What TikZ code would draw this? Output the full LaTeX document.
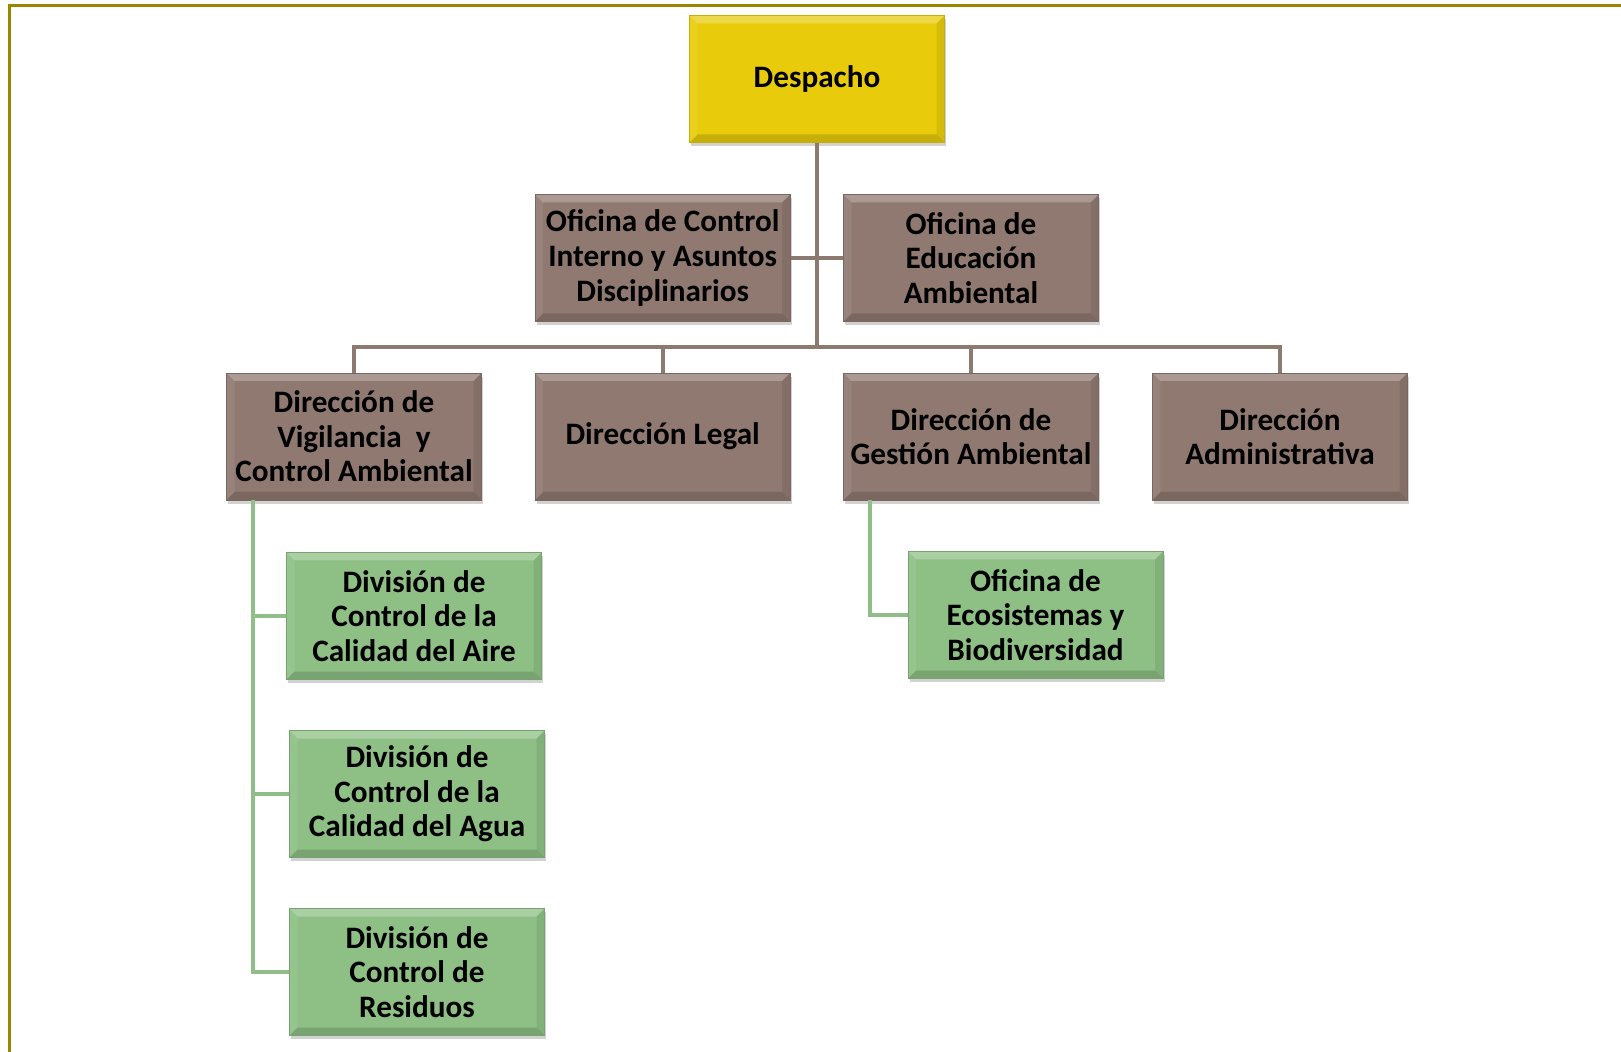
\documentclass[tikz,border=0pt]{standalone}
\usepackage{fontspec}
\setmainfont{Carlito}
\usepackage{tikz}
\usetikzlibrary{shadows,calc}
\usepackage{xcolor}

\definecolor{despfill}{RGB}{232,204,12}
\definecolor{dirfill}{RGB}{143,121,112}
\definecolor{divfill}{RGB}{142,191,133}
\definecolor{linebrown}{RGB}{140,122,112}
\definecolor{linegreen}{RGB}{143,190,136}
\definecolor{frameolive}{RGB}{154,135,0}

\tikzset{
  orgbox/.style={
    rectangle, minimum width=127.5pt, minimum height=63.5pt,
    align=center, inner sep=2pt,
    font=\fontsize{15.6}{17.3}\selectfont\bfseries,
    drop shadow={shadow xshift=0.8pt, shadow yshift=-1.8pt, opacity=0.25, fill=black!70},
    path picture={
      % bevel: light top, dark bottom
      \fill[white,opacity=0.25] (path picture bounding box.north west) -- (path picture bounding box.north east)
        -- ([shift={(-4pt,-4pt)}]path picture bounding box.north east) -- ([shift={(4pt,-4pt)}]path picture bounding box.north west) -- cycle;
      \fill[white,opacity=0.08] (path picture bounding box.north west) -- ([shift={(4pt,-4pt)}]path picture bounding box.north west)
        -- ([shift={(4pt,4pt)}]path picture bounding box.south west) -- (path picture bounding box.south west) -- cycle;
      \fill[black,opacity=0.08] (path picture bounding box.north east) -- ([shift={(-4pt,-4pt)}]path picture bounding box.north east)
        -- ([shift={(-4pt,4pt)}]path picture bounding box.south east) -- (path picture bounding box.south east) -- cycle;
      \fill[black,opacity=0.14] (path picture bounding box.south west) -- (path picture bounding box.south east)
        -- ([shift={(-4pt,4pt)}]path picture bounding box.south east) -- ([shift={(4pt,4pt)}]path picture bounding box.south west) -- cycle;
    }
  },
  despbox/.style={orgbox, fill=despfill, draw=despfill!85!black, line width=0.4pt},
  dirbox/.style={orgbox, fill=dirfill, draw=dirfill!85!black, line width=0.4pt},
  divbox/.style={orgbox, fill=divfill, draw=divfill!85!black, line width=0.4pt},
  conn/.style={draw=linebrown, line width=2.2pt},
  gconn/.style={draw=linegreen, line width=2pt},
}

\begin{document}
\begin{tikzpicture}[x=0.5pt, y=-0.5pt]
  \useasboundingbox (0,0) rectangle (1621,1052);
  % marco
  \draw[frameolive, line width=1.5pt] (1621,6) -- (9,6) -- (9,1052);

  \coordinate (bus) at (817,347);

  \node[despbox] (desp) at (817,79) {Despacho};

  \node[dirbox] (ofic) at (662.7,258) {Oficina de Control\\Interno y Asuntos\\Disciplinarios};
  \node[dirbox] (ofie) at (971,258) {Oficina de\\Educación\\Ambiental};

  \node[dirbox] (dvig) at (354,436.5) {Dirección de\\Vigilancia \ y\\Control Ambiental};
  \node[dirbox] (dleg) at (662.7,436.5) {Dirección Legal};
  \node[dirbox] (dges) at (971,436.5) {Dirección de\\Gestión Ambiental};
  \node[dirbox] (dadm) at (1280,436.5) {Dirección\\Administrativa};

  \node[divbox] (aire) at (414,616) {División de\\Control de la\\Calidad del Aire};
  \node[divbox] (agua) at (417,794) {División de\\Control de la\\Calidad del Agua};
  \node[divbox] (resi) at (417,972) {División de\\Control de\\Residuos};
  \node[divbox] (ecos) at (1035.5,615) {Oficina de\\Ecosistemas y\\Biodiversidad};

  % conectores
  \draw[conn] (desp.south) -- (bus);
  \draw[conn] (ofic.east) -- (ofie.west);
  \draw[conn] (dvig.north) |- (bus) -| (dadm.north);
  \draw[conn] (dleg.north) -- (dleg.north |- bus);
  \draw[conn] (dges.north) -- (dges.north |- bus);

  \draw[gconn] ([xshift=13.5pt]dvig.south west) |- (aire.west);
  \draw[gconn] ([xshift=13.5pt]dvig.south west) |- (agua.west);
  \draw[gconn] ([xshift=13.5pt]dvig.south west) |- (resi.west);
  \draw[gconn] ([xshift=13.5pt]dges.south west) |- (ecos.west);
\end{tikzpicture}
\end{document}
